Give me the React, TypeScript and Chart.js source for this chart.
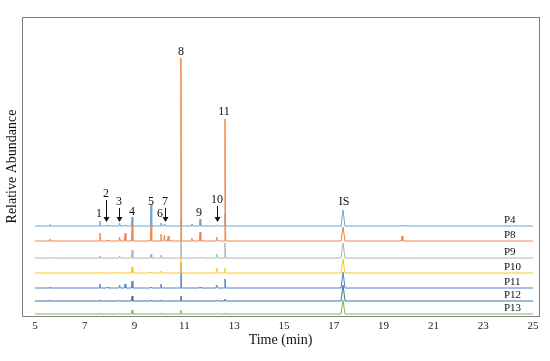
import React, { useEffect, useRef } from "react";
import { Chart, registerables } from "chart.js";

Chart.register(...registerables);

// Retention times of detected peaks (min)
const peakTimes = [5.6, 7.61, 7.9, 8.4, 8.62, 8.9, 9.66, 10.06, 10.2, 10.35, 10.86, 11.3, 11.63, 12.3, 12.63, 17.37, 19.74];
// Sample names and their vertical offsets (stacked display)
const samples = ["P4", "P8", "P9", "P10", "P11", "P12", "P13"];
const offsets = [90, 75, 58, 43, 28, 15, 2];
const colors = ["#6aa5d8", "#ee8648", "#b3b3b3", "#ffc61a", "#5282cc", "#3f76a8", "#7cb95a"];
// Peak heights per sample (same order as peakTimes)
const hP4 = [1.5, 5, 1, 3, 1, 9, 22, 3, 2, 0, 6, 2, 7, 1, 12, 16, 1];
const hP8 = [2, 8, 1, 4, 8, 15, 16, 7, 6, 5, 183, 3, 9, 4, 122, 14, 5];
const hP9 = [0.5, 2, 0, 2, 0, 8, 4, 3, 0, 0, 18, 0, 1, 4, 15, 15, 0];
const hP10 = [0, 1, 0, 1, 0, 6, 1, 2, 0, 0, 15, 0, 0, 5, 5, 14, 0];
const hP11 = [1, 4, 1, 3, 4, 7, 1, 4, 0, 0, 25, 0, 1, 3, 9, 16, 0];
const hP12 = [1, 1, 0, 1, 0, 5, 1, 1, 0, 0, 5, 0, 0, 1, 2, 16, 0];
const hP13 = [0, 1, 0, 1, 0, 4, 0, 1, 0, 0, 4, 0, 0, 1, 1, 14, 0];
const heights = [hP4, hP8, hP9, hP10, hP11, hP12, hP13];
const tickValues = [5, 7, 9, 11, 13, 15, 17, 19, 21, 23, 25];
const timeRange = [5, 25];

// Peak labels: text, time, label height, arrow (from,to) or null
const peakLabels: [string, number, number, number[] | null][] = [
  ["1", 7.57, 102, null],
  ["2", 7.85, 122, [116, 94]],
  ["3", 8.37, 114, [108, 94]],
  ["4", 8.9, 104, null],
  ["5", 9.66, 114, null],
  ["6", 10.02, 102, null],
  ["7", 10.22, 114, [108, 94]],
  ["8", 10.86, 264, null],
  ["9", 11.59, 103, null],
  ["10", 12.31, 116, [110, 94]],
  ["11", 12.59, 204, null],
  ["IS", 17.41, 114, null],
];

const SERIF = "'Liberation Serif', 'Times New Roman', serif";

function buildTrace(i: number) {
  const base = offsets[i];
  const pts: { x: number; y: number }[] = [{ x: timeRange[0], y: base }];
  peakTimes.forEach((t, k) => {
    const h = heights[i][k];
    if (h <= 0) return;
    const w = t > 17 && t < 18 ? 0.08 : 0.03;
    pts.push({ x: t - w, y: base });
    pts.push({ x: t, y: base + h });
    pts.push({ x: t + w, y: base });
  });
  pts.push({ x: timeRange[1], y: base });
  return pts;
}

const annotPlugin = {
  id: "annot",
  afterDatasetsDraw(chart: any) {
    const { ctx, chartArea, scales } = chart;
    const xs = scales.x;
    const ys = scales.y;
    ctx.save();
    ctx.strokeStyle = "#808080";
    ctx.lineWidth = 1;
    ctx.strokeRect(Math.round(chartArea.left) + 0.5, Math.round(chartArea.top) + 0.5, Math.round(chartArea.right - chartArea.left), Math.round(chartArea.bottom - chartArea.top));
    ctx.fillStyle = "#111";
    ctx.font = `12px ${SERIF}`;
    ctx.textAlign = "center";
    ctx.textBaseline = "middle";
    peakLabels.forEach(([txt, t, y, arrow]) => {
      const px = xs.getPixelForValue(t);
      ctx.fillText(txt, px, ys.getPixelForValue(y));
      if (arrow) {
        const y1 = ys.getPixelForValue(arrow[0]);
        const y2 = ys.getPixelForValue(arrow[1]);
        const ax = Math.round(px) + 0.5;
        ctx.strokeStyle = "#111";
        ctx.beginPath();
        ctx.moveTo(ax, y1);
        ctx.lineTo(ax, y2 - 4);
        ctx.stroke();
        ctx.beginPath();
        ctx.moveTo(ax - 3, y2 - 5);
        ctx.lineTo(ax + 3, y2 - 5);
        ctx.lineTo(ax, y2);
        ctx.closePath();
        ctx.fill();
      }
    });
    ctx.font = `11px ${SERIF}`;
    ctx.textAlign = "left";
    samples.forEach((s, i) => {
      ctx.fillText(s, xs.getPixelForValue(23.83), ys.getPixelForValue(offsets[i] + 6));
    });
    ctx.restore();
  },
};

export default function App() {
  const ref = useRef<HTMLCanvasElement>(null);
  useEffect(() => {
    document.body.style.margin = "0";
    const chart = new Chart(ref.current!, {
      type: "line",
      data: {
        datasets: samples.map((s, i) => ({
          label: s,
          data: buildTrace(i),
          borderColor: colors[i],
          borderWidth: 1,
          pointRadius: 0,
          tension: 0,
          fill: false,
          order: s === "P8" ? -1 : 0,
        })),
      },
      options: {
        animation: false,
        responsive: false,
        layout: { padding: { top: 17, right: 11, left: 0, bottom: 0 } },
        plugins: { legend: { display: false }, tooltip: { enabled: false } },
        scales: {
          x: {
            type: "linear",
            min: 4.48,
            max: 25.24,
            afterBuildTicks: (scale: any) => {
              scale.ticks = tickValues.map((v) => ({ value: v }));
            },
            afterFit: (scale: any) => {
              scale.height = 45;
            },
            grid: { display: false, drawTicks: false },
            border: { display: false },
            ticks: { color: "#222", font: { family: SERIF, size: 11 }, padding: 4, maxRotation: 0, autoSkip: false },
            title: { display: true, text: "Time (min)", color: "#111", font: { family: SERIF, size: 14 }, padding: { bottom: 12, top: 0 } },
          },
          y: {
            type: "linear",
            min: 0,
            max: 299,
            afterFit: (scale: any) => {
              scale.width = 22;
            },
            grid: { display: false, drawTicks: false },
            border: { display: false },
            ticks: { display: false },
            title: { display: true, text: "Relative Abundance", color: "#111", font: { family: SERIF, size: 14 }, padding: { top: 4, bottom: 0 } },
          },
        },
      },
      plugins: [annotPlugin],
    });
    return () => chart.destroy();
  }, []);
  return (
    <div style={{ width: 550, height: 361 }}>
      <canvas ref={ref} width={550} height={361} />
    </div>
  );
}
